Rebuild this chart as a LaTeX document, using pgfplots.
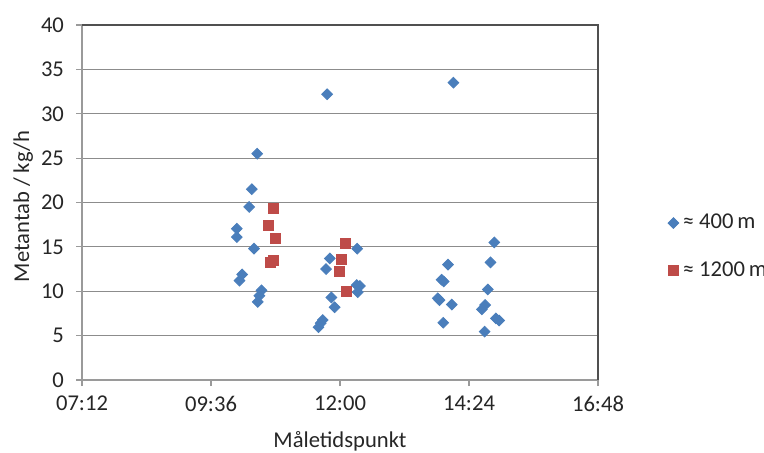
\documentclass[border=0pt]{standalone}
\usepackage{fontspec}
\setmainfont{Carlito}
\usepackage{pgfplots}
\pgfplotsset{compat=1.18}
\usetikzlibrary{calc}
\definecolor{exblue}{HTML}{4A7EBB}
\definecolor{exred}{HTML}{BE4B48}
\definecolor{gridgray}{HTML}{8C8C8C}
\definecolor{axgray}{HTML}{9A9A9A}
\definecolor{frame}{HTML}{505050}
\begin{document}
\begin{tikzpicture}
\begin{axis}[
  scale only axis,
  width=258pt, height=177.5pt,
  xmin=7.2, xmax=16.8, ymin=0, ymax=40,
  xtick={7.2,9.6,12,14.4,16.8},
  xticklabels={07:12,09:36,12:00,14:24,16:48},
  ytick={0,5,...,40},
  ymajorgrids,
  grid style={gridgray, line width=0.6pt},
  axis x line*=bottom, axis y line*=left,
  x axis line style={axgray, line width=0.6pt, -},
  y axis line style={axgray, line width=0.6pt, -},
  tick style={axgray, line width=0.6pt},
  tick align=outside,
  major tick length=3pt,
  xtick pos=bottom, ytick pos=left,
  tick label style={font=\fontsize{11.3}{13}\selectfont, text=black!85},
  /pgf/number format/assume math mode=true,
  xticklabel style={yshift=-1.5pt},
  yticklabel style={xshift=-2.5pt},
  label style={font=\fontsize{11.3}{13}\selectfont, text=black!85},
  xlabel={Måletidspunkt},
  ylabel={Metantab / kg/h},
  xlabel style={at={(axis description cs:0.5,0)}, anchor=north, yshift=-22pt},
  ylabel style={at={(axis description cs:0,0.5)}, anchor=south, xshift=-2pt, yshift=21pt},
  clip=false,
  legend style={draw=none, fill=none, at={(1.135,0.375)}, anchor=west,
     font=\fontsize{11.3}{13}\selectfont, text=black!85, row sep=11pt,
     legend cell align=left, inner sep=0pt},
  legend image code/.code={\draw[#1] plot coordinates {(0.25em,0cm)};},
]
\addplot[only marks, mark=square*, mark size=1.9pt, mark options={draw=exblue, fill=exblue, rotate=45}, color=exblue]
coordinates {
(10.46,25.5) (10.36,21.5) (10.31,19.5) (10.08,17.05) (10.08,16.1) (10.40,14.8)
(10.18,11.9) (10.13,11.2) (10.54,10.1) (10.50,9.5) (10.47,8.8)
(11.76,32.2) (12.32,14.8) (11.81,13.7) (11.74,12.5) (12.31,10.7) (12.37,10.6)
(12.33,9.9) (11.84,9.3) (11.90,8.2) (11.68,6.76) (11.64,6.4) (11.60,5.94)
(14.11,33.5) (14.87,15.5) (14.01,13.0) (14.80,13.25) (13.89,11.3) (13.93,11.1)
(14.75,10.2) (13.82,9.2) (13.85,9.0) (14.08,8.5) (14.70,8.45) (14.64,7.96)
(13.92,6.45) (14.90,6.95) (14.96,6.7) (14.69,5.45)
};
\addlegendentry{≈ 400\,m}
\addplot[only marks, mark=square*, mark size=2.5pt, mark options={draw=exred, fill=exred}, color=exred]
coordinates {
(10.76,19.3) (10.67,17.4) (10.80,15.96) (10.77,13.5) (10.71,13.2)
(12.10,15.4) (12.02,13.6) (11.98,12.24) (12.11,9.95)
};
\addlegendentry{≈ 1200\,m}
\draw[frame, line width=0.7pt] (rel axis cs:0,1) -- (rel axis cs:1,1) -- (rel axis cs:1,0);
\coordinate (SW) at (rel axis cs:0,0);
\coordinate (NE) at (rel axis cs:1,1);
\end{axis}
\pgfresetboundingbox
\useasboundingbox ($(SW)+(-41pt,-36pt)$) rectangle ($(NE)+(83pt,12.5pt)$);
\end{tikzpicture}
\end{document}
